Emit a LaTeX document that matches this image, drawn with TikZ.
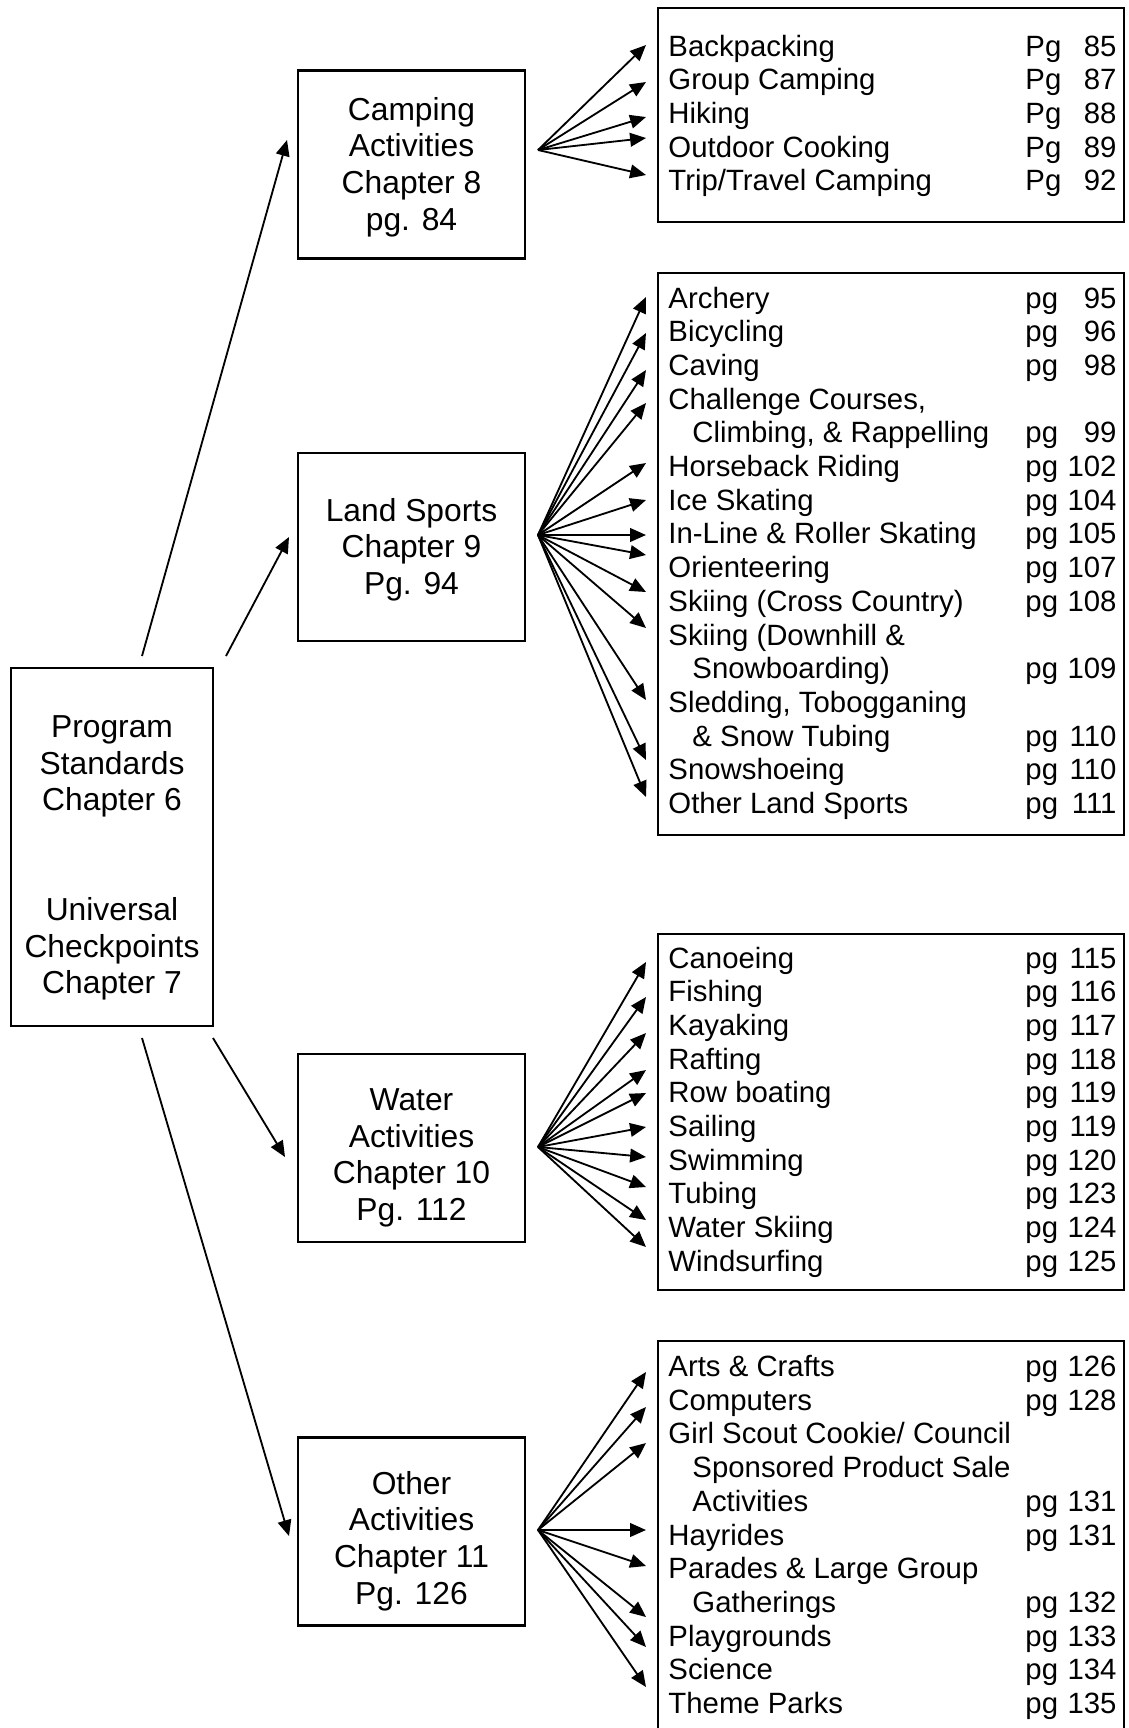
\documentclass[tikz,border=0pt]{standalone}
\usepackage{fontspec}
\setmainfont{Liberation Sans}
\usetikzlibrary{arrows.meta}
\newcommand{\px}{0.409pt}
\newcommand{\itemrow}[6][668]{\node[itemtext] (#2) at (#1,#3) {#4};
\node[pgtext] (#2p) at (1025,#3) {#5};
\node[numtext] (#2n) at (1117,#3) {#6};}
\newcommand{\itemline}[4][668]{\node[itemtext] (#2) at (#1,#3) {#4};}

\begin{document}
\begin{tikzpicture}[x=\px,y=-\px,
  chapbox/.style={draw,line width=0.9pt,minimum width=227*\px,minimum height=188*\px},
  chaptext/.style={align=center,inner sep=0pt,font=\fontsize{13}{14.95}\selectfont},
  mainbox/.style={draw,line width=0.9pt,minimum width=202*\px,minimum height=358*\px},
  listbox/.style={draw,line width=0.9pt,minimum width=466*\px},
  itemtext/.style={anchor=base west,inner sep=0pt,font=\fontsize{12}{13.8}\selectfont},
  pgtext/.style={itemtext},
  numtext/.style={anchor=base east,inner sep=0pt,font=\fontsize{12}{13.8}\selectfont},
  fanarrow/.style={line width=0.75pt,-{Triangle[length=6.5pt,width=5.6pt]}}]
\useasboundingbox (0,0) rectangle (1129,1728);

% left box and chapter boxes
\node[mainbox] (main) at (112,847) {};
\node[chaptext] (maintxt) at (112,858) {Program\\Standards\\Chapter 6\\[2\baselineskip]Universal\\Checkpoints\\Chapter 7};
\node[chapbox] (camp) at (411.5,164.5) {};
\node[chaptext] (camptxt) at (411.5,167) {Camping\\Activities\\Chapter 8\\pg. 84};
\node[chapbox] (land) at (411.5,547) {};
\node[chaptext] (landtxt) at (411.5,549.5) {Land Sports\\Chapter 9\\Pg. 94};
\node[chapbox] (water) at (411.5,1148) {};
\node[chaptext] (watertxt) at (411.5,1158) {Water\\Activities\\Chapter 10\\Pg. 112};
\node[chapbox] (other) at (411.5,1531.5) {};
\node[chaptext] (othertxt) at (411.5,1541) {Other\\Activities\\Chapter 11\\Pg. 126};

% list boxes
\node[listbox,minimum height=214*\px] (camplist) at (891,115) {};
\node[listbox,minimum height=562*\px] (landlist) at (891,554) {};
\node[listbox,minimum height=356*\px] (waterlist) at (891,1112) {};
\node[listbox,minimum height=419*\px] (otherlist) at (891,1550.5) {};

% arrows from the left box
\coordinate (m1) at (142,656);
\coordinate (m2) at (226,656);
\coordinate (m3) at (142,1038);
\coordinate (m4) at (213,1038);
\coordinate (campin) at (287,140);
\coordinate (landin) at (289,537);
\coordinate (waterin) at (285,1157);
\coordinate (otherin) at (289,1536);
\draw[fanarrow] (m1) -- (campin);
\draw[fanarrow] (m2) -- (landin);
\draw[fanarrow] (m4) -- (waterin);
\draw[fanarrow] (m3) -- (otherin);

% fans
\coordinate (tipcol) at (646,0);
\coordinate (campfan) at (538,150);
\coordinate (landfan) at (538,535);
\coordinate (waterfan) at (538,1147);
\coordinate (otherfan) at (538,1530);
\foreach \ty in {45,82,117,138,175}
  \draw[fanarrow] (campfan) -- (tipcol |- 0,\ty);
\foreach \ty in {297,333,370,403,463,500,535,555,592,628,700,760,797}
  \draw[fanarrow] (landfan) -- (tipcol |- 0,\ty);
\foreach \ty in {962,997,1033,1070,1093,1127,1157,1187,1220,1247}
  \draw[fanarrow] (waterfan) -- (tipcol |- 0,\ty);
\foreach \ty in {1372,1407,1443,1530,1566,1617,1647,1687}
  \draw[fanarrow] (otherfan) -- (tipcol |- 0,\ty);

% camping
\itemrow{backpack}{56}{Backpacking}{Pg}{85}
\itemrow{group}{89.7}{Group Camping}{Pg}{87}
\itemrow{hiking}{123.4}{Hiking}{Pg}{88}
\itemrow{cooking}{157.1}{Outdoor Cooking}{Pg}{89}
\itemrow{trip}{190.8}{Trip/Travel Camping}{Pg}{92}

% land sports
\itemrow{archery}{308}{Archery}{pg}{95}
\itemrow{bicycle}{341.7}{Bicycling}{pg}{96}
\itemrow{caving}{375.4}{Caving}{pg}{98}
\itemline{challenge}{409.1}{Challenge Courses,}
\itemrow[692]{climbing}{442.8}{Climbing, \& Rappelling}{pg}{99}
\itemrow{horse}{476.5}{Horseback Riding}{pg}{102}
\itemrow{ice}{510.2}{Ice Skating}{pg}{104}
\itemrow{inline}{543.9}{In-Line \& Roller Skating}{pg}{105}
\itemrow{orient}{577.6}{Orienteering}{pg}{107}
\itemrow{skicc}{611.3}{Skiing (Cross Country)}{pg}{108}
\itemline{skidh}{645}{Skiing (Downhill \&}
\itemrow[692]{snowboard}{678.7}{Snowboarding)}{pg}{109}
\itemline{sled}{712.4}{Sledding, Tobogganing}
\itemrow[692]{tubing}{746.1}{\& Snow Tubing}{pg}{110}
\itemrow{snowshoe}{779.8}{Snowshoeing}{pg}{110}
\itemrow{otherland}{813.5}{Other Land Sports}{pg}{111}

% water
\itemrow{canoe}{968}{Canoeing}{pg}{115}
\itemrow{fishing}{1001.7}{Fishing}{pg}{116}
\itemrow{kayak}{1035.4}{Kayaking}{pg}{117}
\itemrow{raft}{1069.1}{Rafting}{pg}{118}
\itemrow{rowboat}{1102.8}{Row boating}{pg}{119}
\itemrow{sail}{1136.5}{Sailing}{pg}{119}
\itemrow{swim}{1170.2}{Swimming}{pg}{120}
\itemrow{tube}{1203.9}{Tubing}{pg}{123}
\itemrow{waterski}{1237.6}{Water Skiing}{pg}{124}
\itemrow{windsurf}{1271.3}{Windsurfing}{pg}{125}

% other
\itemrow{arts}{1376.5}{Arts \& Crafts}{pg}{126}
\itemrow{computer}{1410.2}{Computers}{pg}{128}
\itemline{cookie}{1443.9}{Girl Scout Cookie/ Council}
\itemline[692]{sponsor}{1477.6}{Sponsored Product Sale}
\itemrow[692]{sale}{1511.3}{Activities}{pg}{131}
\itemrow{hayride}{1545}{Hayrides}{pg}{131}
\itemline{parade}{1578.7}{Parades \& Large Group}
\itemrow[692]{gather}{1612.4}{Gatherings}{pg}{132}
\itemrow{playground}{1646.1}{Playgrounds}{pg}{133}
\itemrow{science}{1679.8}{Science}{pg}{134}
\itemrow{theme}{1713.5}{Theme Parks}{pg}{135}
\end{tikzpicture}
\end{document}
